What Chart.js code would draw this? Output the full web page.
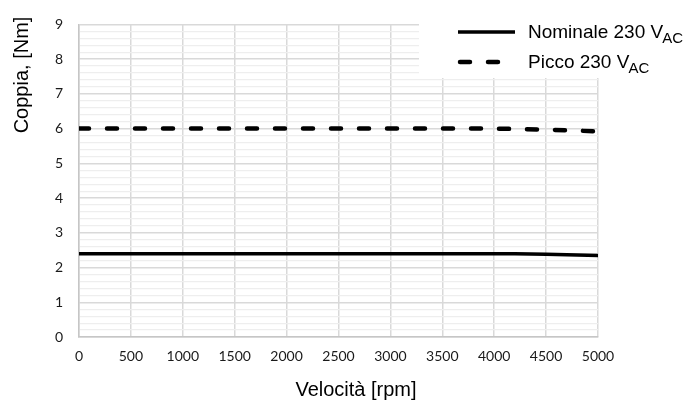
<!DOCTYPE html>
<html><head><meta charset="utf-8">
<script src="https://cdn.jsdelivr.net/npm/chart.js@4/dist/chart.umd.min.js"></script>
<style>html,body{margin:0;padding:0;background:#fff}</style>
</head><body>
<canvas id="c" width="688" height="401"></canvas>
<script>
// ---- data ----
const speedRpm   = [0, 500, 1000, 1500, 2000, 2500, 3000, 3500, 4000, 4200, 4500, 5000];
const nominal230 = [2.4, 2.4, 2.4, 2.4, 2.4, 2.4, 2.4, 2.4, 2.4, 2.4, 2.38, 2.35];
const peak230    = [6.0, 6.0, 6.0, 6.0, 6.0, 6.0, 6.0, 6.0, 6.0, 5.99, 5.97, 5.92];
const xTickValues = [0, 500, 1000, 1500, 2000, 2500, 3000, 3500, 4000, 4500, 5000];
const yTickValues = [0, 1, 2, 3, 4, 5, 6, 7, 8, 9];
const seriesNames = ['Nominale 230 V', 'Picco 230 V'];
const seriesSub   = 'AC';
const xTitle = 'Velocità [rpm]';
const yTitle = 'Coppia, [Nm]';

const toPts = ys => speedRpm.map((x, i) => ({x, y: ys[i]}));
const isMajor = v => Math.abs(v - Math.round(v)) < 1e-6;

const overlay = {
  id: 'overlay',
  afterDraw(chart) {
    const ctx = chart.ctx;
    ctx.save();
    // legend box
    ctx.fillStyle = '#fff';
    ctx.fillRect(419, 0, 269, 78);
    const items = [
      {y: 32, dash: [], name: seriesNames[0], base: 38},
      {y: 62, dash: [10, 18], name: seriesNames[1], base: 68}
    ];
    items.forEach(it => {
      ctx.strokeStyle = '#000';
      ctx.lineWidth = it.dash.length ? 4.5 : 3.5;
      ctx.lineCap = it.dash.length ? 'round' : 'butt';
      ctx.setLineDash(it.dash);
      ctx.beginPath();
      ctx.moveTo(it.dash.length ? 460 : 458, it.y);
      ctx.lineTo(515, it.y);
      ctx.stroke();
      ctx.setLineDash([]);
      ctx.fillStyle = '#000';
      ctx.textBaseline = 'alphabetic';
      ctx.textAlign = 'left';
      ctx.font = '19px "Liberation Sans", Arial, sans-serif';
      ctx.fillText(it.name, 528, it.base);
      const w = ctx.measureText(it.name).width;
      ctx.font = '15px "Liberation Sans", Arial, sans-serif';
      ctx.fillText(seriesSub, 527 + w, it.base + 5);
    });
    // axis titles
    ctx.fillStyle = '#000';
    ctx.font = '20px "Liberation Sans", Arial, sans-serif';
    ctx.textAlign = 'center';
    ctx.textBaseline = 'alphabetic';
    ctx.fillText(xTitle, 356, 396);
    ctx.translate(28, 75);
    ctx.rotate(-Math.PI / 2);
    ctx.fillText(yTitle, 0, 0);
    ctx.restore();
  }
};

new Chart(document.getElementById('c'), {
  type: 'line',
  data: {
    datasets: [
      {label: seriesNames[0], data: toPts(nominal230), borderColor: '#000', borderWidth: 3.5,
       pointRadius: 0, tension: 0, fill: false},
      {label: seriesNames[1], data: toPts(peak230), borderColor: '#000', borderWidth: 4.5,
       borderDash: [10, 18], borderCapStyle: 'round', pointRadius: 0, tension: 0, fill: false}
    ]
  },
  options: {
    responsive: false,
    animation: false,
    devicePixelRatio: 1,
    layout: {padding: {top: 19, right: 90, left: 0, bottom: 0}},
    plugins: {legend: {display: false}, tooltip: {enabled: false}},
    scales: {
      x: {
        type: 'linear', min: 0, max: 5000,
        afterBuildTicks: s => { s.ticks = xTickValues.map(v => ({value: v})); },
        afterFit: s => { s.height = 64; },
        ticks: {font: {family: 'Lato', size: 14}, color: '#1a1a1a', padding: 11, maxRotation: 0, autoSkip: false,
          callback: v => String(v)},
        grid: {color: '#d9d9d9', lineWidth: 1.5, drawTicks: false},
        border: {color: '#c6c6c6', width: 1.5}
      },
      y: {
        type: 'linear', min: 0, max: 9,
        afterBuildTicks: s => {
          const t = [];
          for (let i = 0; i <= 45; i++) t.push({value: Math.round(i * 0.2 * 10) / 10});
          s.ticks = t;
        },
        afterFit: s => { s.width = 79; },
        ticks: {font: {family: 'Lato', size: 14}, color: '#1a1a1a', padding: 16, autoSkip: false,
          callback: v => (isMajor(v) && yTickValues.includes(Math.round(v))) ? String(Math.round(v)) : ''},
        grid: {color: c => isMajor(c.tick.value) ? '#d9d9d9' : '#eeeeee', lineWidth: c => isMajor(c.tick.value) ? 1.5 : 1.2, drawTicks: false},
        border: {color: '#c6c6c6', width: 1.5}
      }
    }
  },
  plugins: [overlay]
});
</script>
</body></html>
